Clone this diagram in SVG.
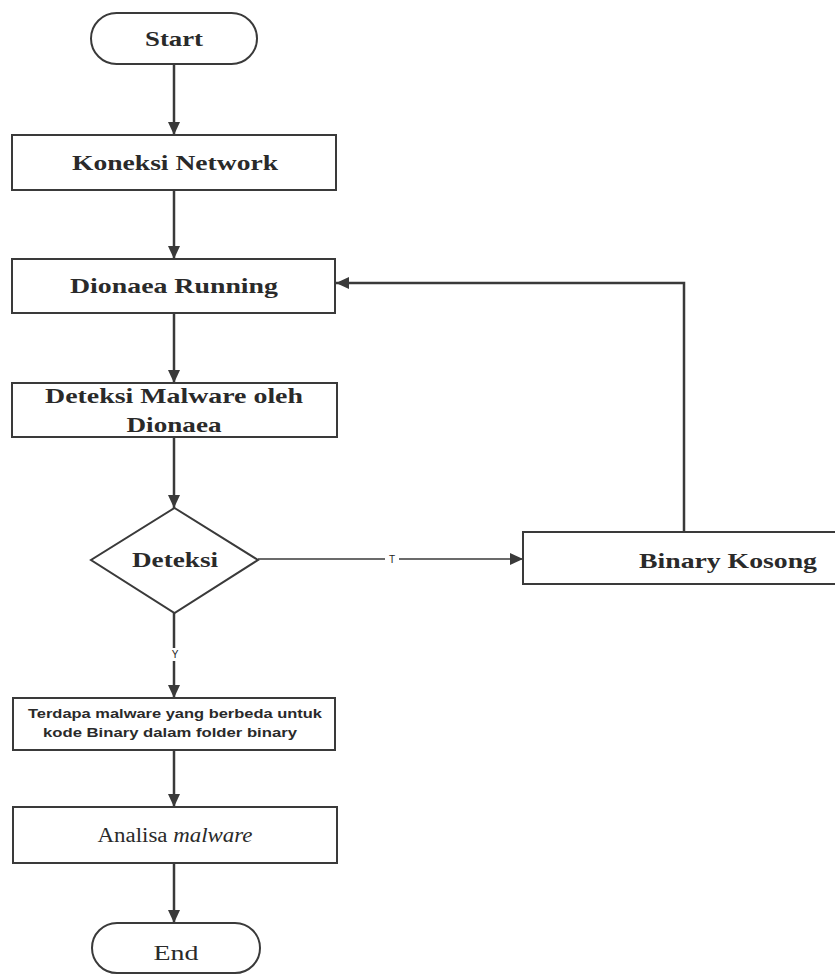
<svg xmlns="http://www.w3.org/2000/svg" width="835" height="974" viewBox="0 0 835 974">
<style>
.box{fill:#fff;stroke:#3a3a3a;stroke-width:2}
.ln{fill:none;stroke:#3a3a3a;stroke-width:2.5}
.thin{fill:none;stroke:#3a3a3a;stroke-width:1.5}
.tb{font-family:"Liberation Serif",serif;font-weight:bold;font-size:22px;fill:#2a2a2a;text-anchor:middle}
.tr{font-family:"Liberation Serif",serif;font-size:20px;fill:#2a2a2a;text-anchor:middle}
.ts{font-family:"Liberation Sans",Arial,sans-serif;font-weight:bold;font-size:13px;fill:#2a2a2a;text-anchor:middle}
.lbl{font-family:"Liberation Sans",Arial,sans-serif;font-size:10px;fill:#222;text-anchor:middle}
</style>
<defs>
<marker id="ah" markerUnits="userSpaceOnUse" markerWidth="14" markerHeight="14" refX="13" refY="6" orient="auto">
<path d="M0,0 L13,6 L0,12 Z" fill="#3a3a3a"/>
</marker>
</defs>
<rect width="835" height="974" fill="#fff"/>
<g id="connectors">
<line class="ln" x1="174" y1="64" x2="174" y2="135" marker-end="url(#ah)"/>
<line class="ln" x1="174" y1="190" x2="174" y2="259" marker-end="url(#ah)"/>
<line class="ln" x1="174" y1="313" x2="174" y2="383" marker-end="url(#ah)"/>
<line class="ln" x1="174" y1="437" x2="174" y2="508" marker-end="url(#ah)"/>
<line class="ln" x1="174" y1="613" x2="174" y2="698" marker-end="url(#ah)"/>
<line class="ln" x1="174" y1="750" x2="174" y2="807" marker-end="url(#ah)"/>
<line class="ln" x1="174" y1="863" x2="174" y2="923" marker-end="url(#ah)"/>
<line class="thin" x1="258" y1="559" x2="523" y2="559" marker-end="url(#ah)"/>
<polyline class="ln" points="684,532 684,283 336,283" marker-end="url(#ah)"/>
<rect x="168" y="648" width="12" height="13" fill="#fff"/>
<text class="lbl" x="175" y="658">Y</text>
<rect x="385" y="553" width="14" height="12" fill="#fff"/>
<text class="lbl" x="392" y="563">T</text>
</g>
<g id="start">
<rect class="box" x="91" y="13" width="166" height="51" rx="25.5" ry="25.5"/>
<text class="tb" x="174" y="46" textLength="58" lengthAdjust="spacingAndGlyphs">Start</text>
</g>
<g id="koneksi">
<rect class="box" x="12" y="135" width="324" height="55"/>
<text class="tb" x="175" y="170" textLength="206" lengthAdjust="spacingAndGlyphs">Koneksi Network</text>
</g>
<g id="dionaea-running">
<rect class="box" x="12" y="259" width="323" height="54"/>
<text class="tb" x="174" y="293" textLength="208" lengthAdjust="spacingAndGlyphs">Dionaea Running</text>
</g>
<g id="deteksi-malware">
<rect class="box" x="12" y="383" width="325" height="54"/>
<text class="tb" x="174" y="403" textLength="258" lengthAdjust="spacingAndGlyphs">Deteksi Malware oleh</text>
<text class="tb" x="174" y="432" textLength="95" lengthAdjust="spacingAndGlyphs">Dionaea</text>
</g>
<g id="deteksi">
<polygon class="box" points="174.5,508 258,560 174.5,613 91,560"/>
<text class="tb" x="175" y="567" textLength="86" lengthAdjust="spacingAndGlyphs">Deteksi</text>
</g>
<g id="binary-kosong">
<rect class="box" x="523" y="532" width="330" height="52"/>
<text class="tb" x="728" y="568" textLength="178" lengthAdjust="spacingAndGlyphs">Binary Kosong</text>
</g>
<g id="terdapa">
<rect class="box" x="13" y="698" width="322" height="52"/>
<text class="ts" x="175" y="718" textLength="294" lengthAdjust="spacingAndGlyphs">Terdapa malware yang berbeda untuk</text>
<text class="ts" x="170" y="737" textLength="254" lengthAdjust="spacingAndGlyphs">kode Binary dalam folder binary</text>
</g>
<g id="analisa">
<rect class="box" x="13" y="807" width="324" height="56"/>
<text class="tr" x="175" y="842" textLength="155" lengthAdjust="spacingAndGlyphs">Analisa <tspan font-style="italic">malware</tspan></text>
</g>
<g id="end">
<rect class="box" x="92" y="923" width="168" height="50" rx="25" ry="25"/>
<text class="tr" x="176" y="960" font-size="24" textLength="45" lengthAdjust="spacingAndGlyphs">End</text>
</g>
</svg>
